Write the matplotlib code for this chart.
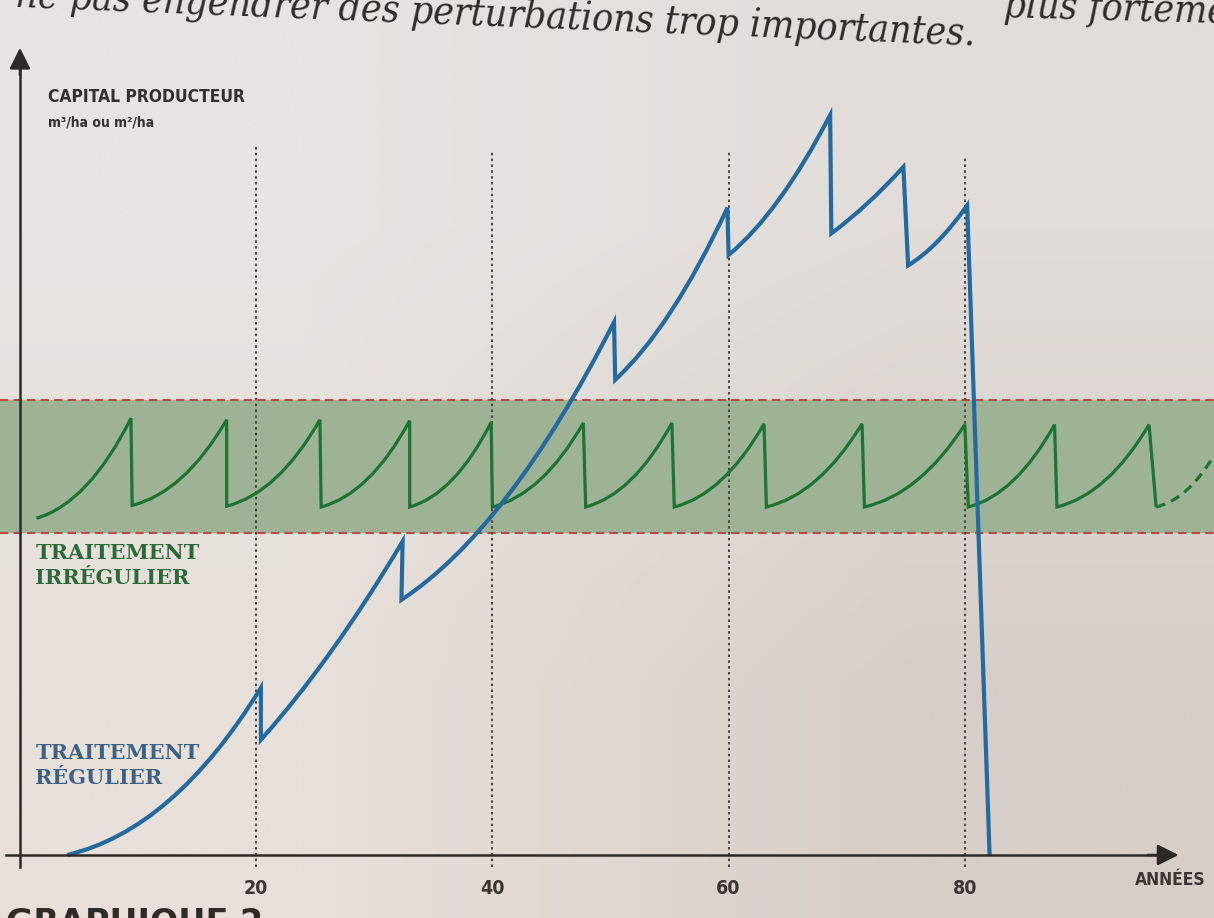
import numpy as np
import matplotlib.pyplot as plt
from matplotlib.path import Path
from matplotlib.patches import PathPatch

# --- data (x = années, y = capital producteur) ---
year_ticks = [20, 40, 60, 80]
grid_tops = [88.8, 88.1, 88.1, 87.2]

band_low = 40.25
band_high = 56.9

# traitement irrégulier (green sawtooth)
green_start = (1.4, 42.1)
green_peak_x = [9.4, 17.5, 25.4, 33.0, 39.9, 47.7, 55.2, 63.0, 71.3, 80.0, 87.6, 95.6]
green_peak_y = [54.6, 54.4, 54.4, 54.3, 54.1, 54.0, 54.0, 53.9, 53.9, 53.8, 53.8, 53.8]
green_trough_x = [9.5, 17.5, 25.5, 33.0, 40.0, 47.9, 55.4, 63.2, 71.5, 80.3, 87.8, 96.2]
green_trough_y = [43.7, 43.6, 43.5, 43.5, 43.5, 43.5, 43.5, 43.5, 43.5, 43.5, 43.5, 43.5]
green_tail_end = (101.0, 49.7)

# traitement régulier (blue)
blue_start = (4.0, 0.0)
blue_peak_x = [20.4, 32.4, 50.3, 59.9, 68.6, 74.8, 80.2]
blue_peak_y = [20.9, 39.2, 66.6, 80.9, 92.5, 86.0, 81.2]
blue_trough_x = [20.4, 32.3, 50.4, 60.0, 68.7, 75.2]
blue_trough_y = [14.4, 31.9, 59.4, 75.0, 77.7, 73.7]
blue_end = (82.1, 0.0)

# curvature of every rising segment (control point as fraction of the segment)
green_bends = [(0.55, 0.15)] * len(green_peak_x)
blue_bends = [(0.55, 0.15), (0.5, 0.4), (0.5, 0.25), (0.5, 0.3), (0.5, 0.3), (0.5, 0.4), (0.5, 0.3)]

GREEN = "#1c7434"
BLUE = "#226aa0"
AXIS = "#2d2926"


def sawtooth_path(start, peaks_x, peaks_y, troughs_x, troughs_y, bends, end=None):
    """Rising parts as quadratic curves, cuts as straight drops."""
    verts = [start]
    codes = [Path.MOVETO]
    x0, y0 = start
    for i in range(len(peaks_x)):
        px, py = peaks_x[i], peaks_y[i]
        fx, fy = bends[i]
        verts += [(x0 + fx * (px - x0), y0 + fy * (py - y0)), (px, py)]
        codes += [Path.CURVE3, Path.CURVE3]
        if i < len(troughs_x):
            x0, y0 = troughs_x[i], troughs_y[i]
            verts.append((x0, y0))
            codes.append(Path.LINETO)
    if end is not None:
        verts.append(end)
        codes.append(Path.LINETO)
    return Path(verts, codes)


fig = plt.figure(figsize=(12.14, 9.18), dpi=100)
ax = fig.add_axes([0, 0, 1, 1])
ax.set_xlim(-1.69, 101.1)
ax.set_ylim(-7.875, 106.875)

# paper background (photo shading)
bg = np.array([[[231, 228, 225], [226, 221, 217]],
               [[232, 224, 218], [215, 206, 200]]]) / 255.0
ax.imshow(bg, extent=(-1.69, 101.1, -7.875, 106.875), aspect="auto",
          interpolation="bilinear", zorder=0)

# green corridor
ax.axhspan(band_low, band_high, color="#9db394", zorder=1, lw=0)
ax.axhline(band_low, color="#bb4a44", lw=1.5, ls=(0, (4, 2.5)), zorder=2)
ax.axhline(band_high, color="#bb4a44", lw=1.5, ls=(0, (4, 2.5)), zorder=2)

# dotted year guides
ax.vlines(year_ticks, -1.5, grid_tops, colors="#4a4440", lw=1.4,
          linestyles=(0, (1.3, 1.7)), zorder=2)

# curves
gpath = sawtooth_path(green_start, green_peak_x, green_peak_y,
                      green_trough_x, green_trough_y, green_bends)
ax.add_patch(PathPatch(gpath, fc="none", ec=GREEN, lw=2.3, zorder=3))
tail = Path([(green_trough_x[-1], green_trough_y[-1]),
             (green_trough_x[-1] + 0.55 * (green_tail_end[0] - green_trough_x[-1]),
              green_trough_y[-1] + 0.15 * (green_tail_end[1] - green_trough_y[-1])),
             green_tail_end],
            [Path.MOVETO, Path.CURVE3, Path.CURVE3])
ax.add_patch(PathPatch(tail, fc="none", ec=GREEN, lw=2.3, ls=(0, (3, 2)), zorder=3))

bpath = sawtooth_path(blue_start, blue_peak_x, blue_peak_y,
                      blue_trough_x, blue_trough_y, blue_bends, end=blue_end)
ax.add_patch(PathPatch(bpath, fc="none", ec=BLUE, lw=3.0, zorder=4))

# axes with arrows
for side in ["top", "right"]:
    ax.spines[side].set_visible(False)
ax.spines["left"].set_position(("data", 0))
ax.spines["bottom"].set_position(("data", 0))
ax.spines["left"].set_bounds(-1.5, 99)
ax.spines["bottom"].set_bounds(-1.2, 96.5)
for side in ["left", "bottom"]:
    ax.spines[side].set_color(AXIS)
    ax.spines[side].set_linewidth(1.8)
    ax.spines[side].set_zorder(5)
ax.annotate("", xy=(98.1, 0), xytext=(95.5, 0),
            arrowprops=dict(arrowstyle="-|>", color=AXIS, lw=1.8,
                            mutation_scale=32, shrinkA=0, shrinkB=0), zorder=6)
ax.annotate("", xy=(0, 100.9), xytext=(0, 97.5),
            arrowprops=dict(arrowstyle="-|>", color=AXIS, lw=1.8,
                            mutation_scale=32, shrinkA=0, shrinkB=0), zorder=6)

ax.set_yticks([])
ax.set_xticks(year_ticks)
ax.set_xticklabels([str(t) for t in year_ticks], family="DejaVu Sans",
                   fontstretch="condensed", fontweight="bold", fontsize=14,
                   color="#3a3633")
ax.tick_params(axis="x", length=0, pad=17)

ax.text(97.4, -3.1, "ANNÉES", family="DejaVu Sans", fontstretch="condensed",
        fontweight="bold", fontsize=12.5, color="#3a3633", ha="center", va="center")
ax.text(2.4, 94.8, "CAPITAL PRODUCTEUR", family="DejaVu Sans",
        fontstretch="condensed", fontweight="bold", fontsize=12.5,
        color="#33302d", va="center")
ax.text(2.4, 91.5, "m³/ha ou m²/ha", family="DejaVu Sans",
        fontstretch="condensed", fontweight="bold", fontsize=10,
        color="#33302d", va="center")

ax.text(1.3, 39.0, "TRAITEMENT\nIRRÉGULIER", family="DejaVu Serif",
        fontweight="bold", fontsize=15, color="#2c6a3a", va="top", linespacing=1.3)
ax.text(1.3, 14.0, "TRAITEMENT\nRÉGULIER", family="DejaVu Serif",
        fontweight="bold", fontsize=15, color="#3e6283", va="top", linespacing=1.3)

# page text around the chart (photo: lines slightly tilted and cut at the top)
fig.text(0.803, 0.950, "pour ne pas engendrer des perturbations trop importantes.",
         family="DejaVu Serif", fontstretch="condensed", fontstyle="italic",
         fontsize=28, color="#2f2b29", rotation=-2.3, rotation_mode="anchor",
         va="baseline", ha="right")
fig.text(0.826, 0.982, "plus fortement,", family="DejaVu Serif",
         fontstretch="condensed", fontstyle="italic", fontsize=28,
         color="#2f2b29", rotation=-1.6, rotation_mode="anchor",
         va="baseline", ha="left")
fig.text(0.005, 0.013, "GRAPHIQUE 2", family="DejaVu Sans", fontweight="bold",
         fontsize=24, color="#2f2b29", va="top")

fig.savefig("out.png", dpi=100)
